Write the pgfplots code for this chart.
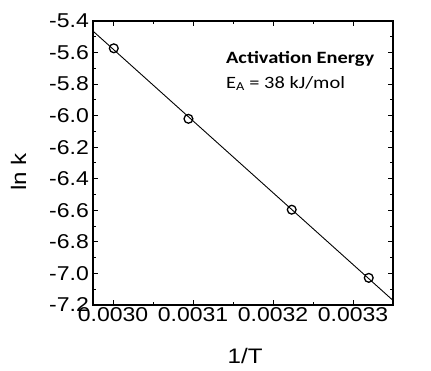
\documentclass[border=0pt]{standalone}
\usepackage{fontspec}
\setmainfont{Liberation Sans}[FakeStretch=1.15]
\newfontfamily\califont{Carlito}[FakeStretch=1.18]
\usepackage{pgfplots}
\pgfplotsset{compat=1.18}
\begin{document}
\begin{tikzpicture}
\path[use as bounding box] (0,0) rectangle (431bp,371bp);
\begin{axis}[
  at={(93bp,66bp)}, anchor=south west,
  scale only axis, width=300bp, height=284bp,
  xmin=0.002975, xmax=0.00335, ymin=-7.2, ymax=-5.4,
  scaled x ticks=false, scaled y ticks=false,
  xtick={0.0030,0.0031,0.0032,0.0033},
  xticklabels={0.0030,0.0031,0.0032,0.0033},
  ytick={-7.2,-7.0,-6.8,-6.6,-6.4,-6.2,-6.0,-5.8,-5.6,-5.4},
  yticklabels={-7.2,-7.0,-6.8,-6.6,-6.4,-6.2,-6.0,-5.8,-5.6,-5.4},
  minor x tick num=1, minor y tick num=1,
  tick align=inside,
  major tick length=5bp, minor tick length=3bp,
  every tick/.style={black, line width=1bp},
  axis line style={line width=1.6bp},
  /pgf/number format/assume math mode=true,
  tick label style={font=\fontsize{20bp}{24bp}\selectfont},
  xticklabel style={inner sep=2bp},
  yticklabel style={inner sep=4bp},
  xlabel={1/T}, ylabel={ln k},
  label style={font=\fontsize{21bp}{25bp}\selectfont},
  xlabel style={at={(axis description cs:0.507,-0.178)}, anchor=center},
  ylabel style={at={(axis description cs:-0.248,0.468)}, anchor=center, rotate=0},
  clip=false,
]
\addplot[black, line width=0.9bp] coordinates {(0.002975,-5.464) (0.00335,-7.171)};
\addplot[only marks, mark=o, mark size=4.4bp, mark options={line width=1.3bp, black}] coordinates {
(0.003001,-5.573) (0.0030943,-6.020) (0.0032234,-6.596) (0.0033197,-7.028)};
\node[anchor=base west, inner sep=0pt, font=\califont\bfseries\fontsize{17.3bp}{20bp}\selectfont] at (axis description cs:0.443,0.852) {Activation Energy};
\node[anchor=base west, inner sep=0pt, font=\califont\fontsize{17.3bp}{20bp}\selectfont] at (axis description cs:0.443,0.764) {E\textsubscript{A} = 38 kJ/mol};
\end{axis}
\end{tikzpicture}
\end{document}
